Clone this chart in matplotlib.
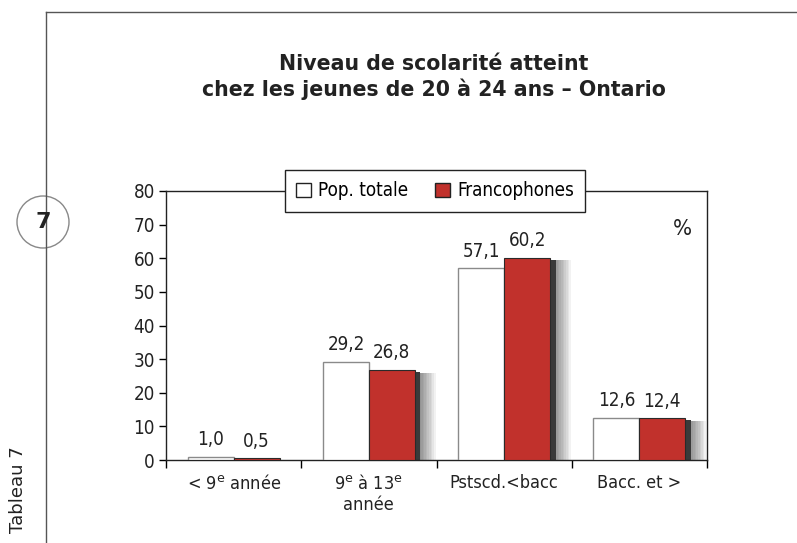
import numpy as np
import matplotlib
matplotlib.use('Agg')
import matplotlib.pyplot as plt
from matplotlib.patches import Patch, Ellipse
from matplotlib.lines import Line2D

categories = [r'< 9$^{\rm e}$ année', r'9$^{\rm e}$ à 13$^{\rm e}$' + '\nannée', 'Pstscd.<bacc', 'Bacc. et >']
pop_totale = [1.0, 29.2, 57.1, 12.6]
francophones = [0.5, 26.8, 60.2, 12.4]
series_names = ['Pop. totale', 'Francophones']
yticks = [0, 10, 20, 30, 40, 50, 60, 70, 80]

RED = '#c1312c'
W, H = 797, 543

fig = plt.figure(figsize=(W / 100, H / 100), dpi=100)
fnt = dict(family='DejaVu Sans', stretch='condensed')

# cadre de page
fig.add_artist(Line2D([46 / W, 46 / W], [0, 1 - 12 / H], color='#555555', lw=1.0, transform=fig.transFigure))
fig.add_artist(Line2D([46 / W, 1], [1 - 12 / H, 1 - 12 / H], color='#555555', lw=1.0, transform=fig.transFigure))
circ = Ellipse((43 / W, 1 - 222 / H), 52 / W, 52 / H, transform=fig.transFigure, facecolor='white',
               edgecolor='#888888', lw=1.0)
fig.add_artist(circ)
fig.text(43 / W, 1 - 222 / H, '7', ha='center', va='center', fontsize=16, fontweight='bold', color='#222222')
fig.text(18 / W, 1 - 490 / H, 'Tableau 7', rotation=90, ha='center', va='center', fontsize=13, color='#222222')

fig.text(434 / W, 1 - 77 / H, 'Niveau de scolarité atteint\nchez les jeunes de 20 à 24 ans – Ontario',
         ha='center', va='center', fontsize=14.8, fontweight='bold', color='#222222', linespacing=1.25)

ax = fig.add_axes([166 / W, 1 - 460 / H, (707 - 166) / W, (460 - 191) / H])
x = np.arange(len(categories))
w = 0.34

# ombre derrière les barres rouges
for k in range(10):
    ax.bar(x + w / 2 + 0.045 + k * 0.012, np.array(francophones) - 0.8, w, color='#000000',
           alpha=0.05, linewidth=0, zorder=1)
ax.bar(x + w / 2 + 0.04, np.array(francophones) - 0.6, w, color='#3a3a3a', linewidth=0, zorder=2)

ax.bar(x - w / 2, pop_totale, w, color='white', edgecolor='#8a8a8a', linewidth=1.0, zorder=3)
ax.bar(x + w / 2, francophones, w, color=RED, edgecolor='#2a2a2a', linewidth=0.8, zorder=4)

for i in range(len(categories)):
    ax.text(x[i] - w / 2, pop_totale[i] + 2.2, f'{pop_totale[i]:.1f}'.replace('.', ','),
            ha='center', va='bottom', fontsize=13.5, color='#222222', **fnt)
    ax.text(x[i] + w / 2, francophones[i] + 2.2, f'{francophones[i]:.1f}'.replace('.', ','),
            ha='center', va='bottom', fontsize=13.5, color='#222222', **fnt)

ax.set_xlim(-0.5, len(categories) - 0.5)
ax.set_ylim(0, 80)
ax.set_yticks(yticks)
ax.set_yticklabels([str(v) for v in yticks], fontsize=13.5, color='#222222', **fnt)
ax.set_xticks(x)
ax.set_xticklabels(categories, fontsize=13, color='#222222', **fnt)
ax.set_xticks(np.arange(-0.5, len(categories)), minor=True)
ax.tick_params(axis='x', which='major', length=0, pad=10)
ax.tick_params(axis='x', which='minor', length=6, width=1.0, direction='out')
ax.tick_params(axis='y', length=5, width=1.0, direction='out', pad=3)
for s in ax.spines.values():
    s.set_linewidth(1.0)
    s.set_color('#222222')

ax.text(0.955, 0.86, '%', transform=ax.transAxes, ha='center', va='center', fontsize=16, color='#222222', **fnt)

handles = [Patch(facecolor='white', edgecolor='#222222', lw=1.0),
           Patch(facecolor=RED, edgecolor='#222222', lw=1.0)]
leg = ax.legend(handles, series_names, loc='center', bbox_to_anchor=(0.497, 1.0), ncol=2,
                frameon=True, fancybox=False, framealpha=1, edgecolor='#222222',
                handlelength=0.8, handleheight=0.8, handletextpad=0.4, columnspacing=1.4,
                borderpad=0.6, borderaxespad=0, prop=dict(size=13.5, **fnt))
leg.get_frame().set_linewidth(1.0)
leg.set_zorder(10)

fig.savefig('out.png', dpi=100)
